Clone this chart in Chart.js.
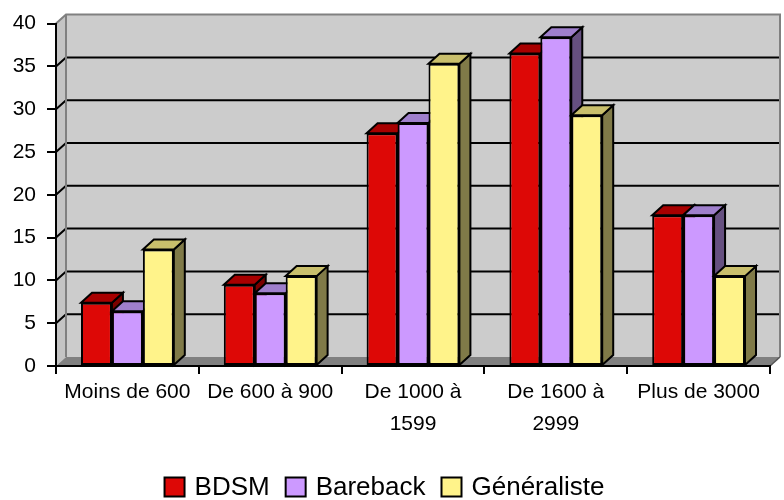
<!DOCTYPE html>
<html>
<head>
<meta charset="utf-8">
<script src="https://cdn.jsdelivr.net/npm/chart.js@4/dist/chart.umd.min.js"></script>
<style>
  html, body { margin: 0; padding: 0; background: #fff; }
  #wrap { width: 784px; height: 500px; }
</style>
</head>
<body>
<div id="wrap"><canvas id="c" width="784" height="500"></canvas></div>
<script>
// Price brackets
const categories = ['Moins de 600', 'De 600 à 900', ['De 1000 à', '1599'], ['De 1600 à', '2999'], 'Plus de 3000'];
// Share per bracket (%)
const bdsm        = [7.4, 9.5, 27.2, 36.5, 17.6];
const bareback    = [6.4, 8.5, 28.4, 38.4, 17.6];
const generaliste = [13.6, 10.5, 35.3, 29.3, 10.5];
const yTicks = [0, 5, 10, 15, 20, 25, 30, 35, 40];

const FONT = 'Liberation Sans, Arial, Helvetica, sans-serif';

// depth offsets of the pseudo-3D walls and bars
const WALL_DX = 10, WALL_DY = -9;
const BAR_DX = 11, BAR_DY = -10;
// bottom edge of the plot floor, in canvas pixels
const PLOT_BOTTOM = 366;
// legend row: vertical centre, horizontal centre, box size and spacing
const LEGEND_CY = 487, LEGEND_CX = 384.5;
const LEGEND_BOX_W = 20, LEGEND_BOX_H = 19, LEGEND_TEXT_GAP = 10, LEGEND_ITEM_GAP = 16;
const LEGEND_FONT_SIZE = 26;

function poly(ctx, pts, fill, stroke, lw) {
  ctx.beginPath();
  ctx.moveTo(pts[0][0], pts[0][1]);
  for (let i = 1; i < pts.length; i++) ctx.lineTo(pts[i][0], pts[i][1]);
  ctx.closePath();
  if (fill) { ctx.fillStyle = fill; ctx.fill(); }
  if (stroke) { ctx.strokeStyle = stroke; ctx.lineWidth = lw || 1; ctx.lineJoin = 'miter'; ctx.stroke(); }
}

const depthPlugin = {
  id: 'depth',
  beforeDraw(chart) {
    const ctx = chart.ctx;
    const y = chart.scales.y, x = chart.scales.x;
    const L = x.left, R = x.right;
    const T = y.getPixelForValue(yTicks[yTicks.length - 1]);
    const B = y.getPixelForValue(0);
    ctx.save();
    ctx.fillStyle = '#fff';
    ctx.fillRect(0, 0, chart.width, chart.height);
    // back wall
    poly(ctx, [[L + WALL_DX, T + WALL_DY], [R + WALL_DX, T + WALL_DY], [R + WALL_DX, B + WALL_DY], [L + WALL_DX, B + WALL_DY]], '#cccccc');
    // side wall
    poly(ctx, [[L, T], [L + WALL_DX, T + WALL_DY], [L + WALL_DX, B + WALL_DY], [L, B]], '#c4c4c4');
    // floor
    poly(ctx, [[L, B], [R, B], [R + WALL_DX, B + WALL_DY], [L + WALL_DX, B + WALL_DY]], '#808080');
    // gridlines on side and back walls
    ctx.strokeStyle = '#000';
    ctx.lineWidth = 2;
    for (const v of yTicks) {
      if (v === 0 || v === yTicks[yTicks.length - 1]) continue;
      const py = y.getPixelForValue(v);
      ctx.beginPath();
      ctx.moveTo(L, py);
      ctx.lineTo(L + WALL_DX, py + WALL_DY);
      ctx.lineTo(R + WALL_DX, py + WALL_DY);
      ctx.stroke();
    }
    // wall edges
    ctx.strokeStyle = '#808080';
    ctx.lineWidth = 2;
    ctx.beginPath();
    ctx.moveTo(L, T);
    ctx.lineTo(L + WALL_DX, T + WALL_DY);
    ctx.lineTo(R + WALL_DX, T + WALL_DY);
    ctx.lineTo(R + WALL_DX, B + WALL_DY);
    ctx.moveTo(L + WALL_DX, T + WALL_DY);
    ctx.lineTo(L + WALL_DX, B + WALL_DY);
    ctx.stroke();
    ctx.strokeStyle = '#555';
    ctx.lineWidth = 1.5;
    ctx.beginPath();
    ctx.moveTo(R, B);
    ctx.lineTo(R + WALL_DX, B + WALL_DY);
    ctx.stroke();
    ctx.restore();
  },
  beforeDatasetsDraw(chart) {
    // paint bars category by category, left to right: side, top, then front
    const ctx = chart.ctx;
    const metas = chart.data.datasets.map((d, i) => chart.getDatasetMeta(i));
    ctx.save();
    for (let c = 0; c < chart.data.labels.length; c++) {
      metas.forEach((meta, i) => {
        const ds = chart.data.datasets[i];
        const el = meta.data[c];
        const l = el.x - el.width / 2, r = el.x + el.width / 2;
        const t = el.y, b = el.base;
        poly(ctx, [[r, t], [r + BAR_DX, t + BAR_DY], [r + BAR_DX, b + BAR_DY], [r, b]], ds.sideColor, '#000', 2);
        poly(ctx, [[l, t], [r, t], [r + BAR_DX, t + BAR_DY], [l + BAR_DX, t + BAR_DY]], ds.topColor, '#000', 2);
        el.draw(ctx, chart.chartArea);
      });
    }
    ctx.restore();
    return false;
  },
  afterDraw(chart) {
    // single-row legend under the category labels
    const ctx = chart.ctx;
    const sets = chart.data.datasets;
    ctx.save();
    ctx.font = LEGEND_FONT_SIZE + 'px ' + FONT;
    ctx.textBaseline = 'middle';
    ctx.textAlign = 'left';
    const widths = sets.map(d => ctx.measureText(d.label).width);
    const total = widths.reduce((s, w) => s + w + LEGEND_BOX_W + LEGEND_TEXT_GAP, 0) + LEGEND_ITEM_GAP * (sets.length - 1);
    let cx = LEGEND_CX - total / 2;
    sets.forEach((d, i) => {
      const top = LEGEND_CY - LEGEND_BOX_H / 2;
      ctx.fillStyle = d.backgroundColor;
      ctx.fillRect(cx, top, LEGEND_BOX_W, LEGEND_BOX_H);
      ctx.strokeStyle = '#000';
      ctx.lineWidth = 2;
      ctx.strokeRect(cx, top, LEGEND_BOX_W, LEGEND_BOX_H);
      cx += LEGEND_BOX_W + LEGEND_TEXT_GAP;
      ctx.fillStyle = '#000';
      ctx.fillText(d.label, cx, LEGEND_CY + 1);
      cx += widths[i] + LEGEND_ITEM_GAP;
    });
    ctx.restore();
  }
};

new Chart(document.getElementById('c'), {
  type: 'bar',
  data: {
    labels: categories,
    datasets: [
      { label: 'BDSM', data: bdsm, backgroundColor: '#dd0806', topColor: '#a80000', sideColor: '#780000' },
      { label: 'Bareback', data: bareback, backgroundColor: '#cc99ff', topColor: '#9f7fcc', sideColor: '#665080' },
      { label: 'Généraliste', data: generaliste, backgroundColor: '#fff38a', topColor: '#c9bf6c', sideColor: '#807a48' }
    ].map(d => Object.assign(d, { borderColor: '#000', borderWidth: 2, borderSkipped: false, categoryPercentage: 0.65, barPercentage: 1 }))
  },
  options: {
    responsive: false,
    animation: false,
    events: [],
    layout: { padding: { top: 22, right: 14, left: 0, bottom: 0 } },
    scales: {
      x: {
        grid: { offset: true, drawOnChartArea: false, drawTicks: true, tickLength: 8, color: '#000', lineWidth: 2 },
        border: { display: true, color: '#000', width: 2 },
        ticks: { color: '#000', font: { family: FONT, size: 21, lineHeight: 1.52 }, padding: 2, maxRotation: 0, autoSkip: false },
        afterFit(scale) { scale.height = scale.chart.height - PLOT_BOTTOM; }
      },
      y: {
        min: 0, max: 40,
        grid: { drawOnChartArea: false, drawTicks: true, tickLength: 9, color: '#000', lineWidth: 2 },
        border: { display: true, color: '#000', width: 2 },
        ticks: { stepSize: 5, color: '#000', font: { family: FONT, size: 21 }, padding: 11 },
        afterFit(scale) { scale.width = 56; }
      }
    },
    plugins: {
      legend: { display: false },
      tooltip: { enabled: false }
    }
  },
  plugins: [depthPlugin]
});
</script>
</body>
</html>
